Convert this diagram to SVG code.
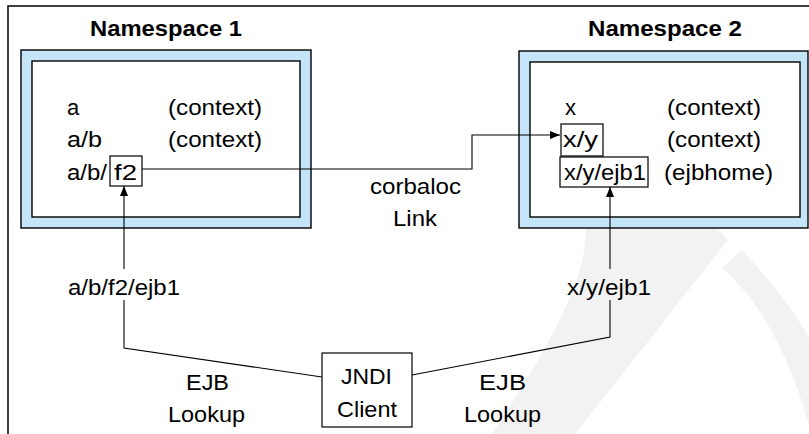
<svg xmlns="http://www.w3.org/2000/svg" width="809" height="434" viewBox="0 0 809 434">
<defs>
<style>
text{font-family:"Liberation Sans",Arial,sans-serif;font-size:22px;fill:#000}
.t{font-weight:bold}
.ob{fill:#c4e4f8;stroke:#000;stroke-width:1.4}
.ib{fill:#fff;stroke:#000;stroke-width:1.4}
.bx{fill:#fff;stroke:#000;stroke-width:1.2}
.ln{fill:none;stroke:#000;stroke-width:1.1}
.wm{fill:#f2f2f2;stroke:none}
</style>
<marker id="ah" viewBox="0 0 10 8" refX="10" refY="4" markerWidth="10" markerHeight="8" markerUnits="userSpaceOnUse" orient="auto">
<path d="M0,0 L10,4 L0,8 Z" fill="#000"/>
</marker>
</defs>
<rect width="809" height="434" fill="#fff"/>
<g id="watermark">
<path class="wm" d="M578,192 C640,182 700,205 728,240 L575,434 L492,434 C560,330 605,250 578,192 Z"/>
<path class="wm" d="M742,250 C775,285 800,320 809,338 L809,425 C792,365 765,305 722,268 Z"/>
</g>
<path class="ln" d="M8,434 L8,6 L809,6" style="stroke-width:1.5"/>
<g id="namespace1">
<text class="t" x="90" y="36" textLength="152" lengthAdjust="spacingAndGlyphs">Namespace 1</text>
<rect class="ob" x="21" y="50" width="290" height="178"/>
<rect class="ib" x="32" y="61" width="268" height="156"/>
<text x="67" y="115">a</text>
<text x="168" y="115" textLength="94" lengthAdjust="spacingAndGlyphs">(context)</text>
<text x="67" y="147" textLength="35" lengthAdjust="spacingAndGlyphs">a/b</text>
<text x="168" y="147" textLength="94" lengthAdjust="spacingAndGlyphs">(context)</text>
<text x="67" y="180" textLength="40" lengthAdjust="spacingAndGlyphs">a/b/</text>
</g>
<g id="f2">
<rect class="bx" x="110" y="156" width="32" height="30"/>
<text x="114" y="180" textLength="23" lengthAdjust="spacingAndGlyphs">f2</text>
</g>
<g id="namespace2">
<text class="t" x="588" y="36" textLength="154" lengthAdjust="spacingAndGlyphs">Namespace 2</text>
<rect class="ob" x="519" y="51" width="289" height="177"/>
<rect class="ib" x="530" y="62" width="270" height="155"/>
<text x="565" y="115">x</text>
<text x="667" y="115" textLength="94" lengthAdjust="spacingAndGlyphs">(context)</text>
<text x="667" y="147" textLength="94" lengthAdjust="spacingAndGlyphs">(context)</text>
<text x="664" y="180" textLength="109" lengthAdjust="spacingAndGlyphs">(ejbhome)</text>
</g>
<g id="xy">
<rect class="bx" x="561" y="124" width="42" height="32"/>
<text x="563" y="147" textLength="35" lengthAdjust="spacingAndGlyphs">x/y</text>
</g>
<g id="xyejb1">
<rect class="bx" x="560" y="157" width="88" height="30"/>
<text x="564" y="180" textLength="82" lengthAdjust="spacingAndGlyphs">x/y/ejb1</text>
</g>
<g id="jndi">
<rect class="bx" x="322" y="353" width="90" height="74"/>
<text x="341" y="384" textLength="51" lengthAdjust="spacingAndGlyphs">JNDI</text>
<text x="337" y="417" textLength="60" lengthAdjust="spacingAndGlyphs">Client</text>
</g>
<g id="connectors">
<path class="ln" d="M142,169 L472,169 L472,135 L560,135" marker-end="url(#ah)"/>
<path class="ln" d="M322,377 L124,348 L124,300"/>
<path class="ln" d="M124,269 L124,186" marker-end="url(#ah)"/>
<path class="ln" d="M412,375 L610,337 L610,300"/>
<path class="ln" d="M610,269 L610,187" marker-end="url(#ah)"/>
</g>
<g id="labels">
<text x="370" y="194" textLength="91" lengthAdjust="spacingAndGlyphs">corbaloc</text>
<text x="393" y="226" textLength="44" lengthAdjust="spacingAndGlyphs">Link</text>
<text x="68" y="295" textLength="112" lengthAdjust="spacingAndGlyphs">a/b/f2/ejb1</text>
<text x="567" y="295" textLength="84" lengthAdjust="spacingAndGlyphs">x/y/ejb1</text>
<text x="186" y="390" textLength="43" lengthAdjust="spacingAndGlyphs">EJB</text>
<text x="168" y="422" textLength="77" lengthAdjust="spacingAndGlyphs">Lookup</text>
<text x="479" y="390" textLength="47" lengthAdjust="spacingAndGlyphs">EJB</text>
<text x="464" y="422" textLength="77" lengthAdjust="spacingAndGlyphs">Lookup</text>
</g>
</svg>
